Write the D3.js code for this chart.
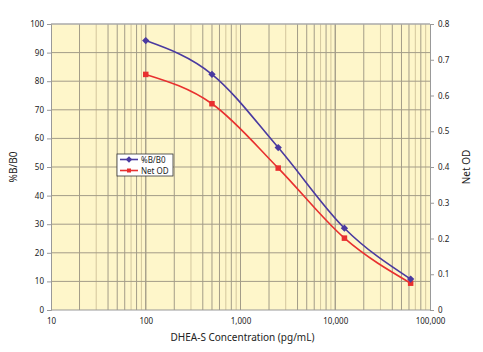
<!DOCTYPE html>
<html>
<head>
<meta charset="utf-8">
<script src="https://cdn.jsdelivr.net/npm/d3@7"></script>
<style>
  body { margin: 0; background: #fff; }
  text { font-family: "Noto Sans", "Open Sans", sans-serif; fill: #222; }
</style>
</head>
<body>
<script>
// Data
const conc = [100, 500, 2500, 12500, 62500];
const pctB = [94.2, 82.4, 56.8, 28.6, 10.8];
const netOD = [0.659, 0.577, 0.397, 0.201, 0.075];
const xTicks = [10, 100, 1000, 10000, 100000];
const leftTicks = d3.range(0, 101, 10);
const rightTicks = [0, 0.1, 0.2, 0.3, 0.4, 0.5, 0.6, 0.7, 0.8];

const W = 483, H = 352;
const margin = { top: 24, right: 53, bottom: 42, left: 51 };
const width = W - margin.left - margin.right;
const height = H - margin.top - margin.bottom;

const svg = d3.select("body").append("svg")
    .attr("width", W)
    .attr("height", H);

const g = svg.append("g").attr("transform", "translate(" + margin.left + "," + margin.top + ")");

const x = d3.scaleLog().domain([10, 100000]).range([0, width]);
const yL = d3.scaleLinear().domain([0, 100]).range([height, 0]);
const yR = d3.scaleLinear().domain([0, 0.8]).range([height, 0]);

// Background
g.append("rect")
    .attr("width", width)
    .attr("height", height)
    .attr("fill", "#fef6ca");

// Vertical grid (log minor)
const minor = [];
for (let d = 10; d < 100000; d *= 10) {
  for (let k = 1; k <= 10; k++) minor.push(d * k);
}
g.append("g").selectAll("line")
  .data(minor.filter(v => v > 10 && v < 100000))
  .join("line")
    .attr("x1", d => x(d)).attr("x2", d => x(d))
    .attr("y1", 0).attr("y2", height)
    .attr("stroke", d => {
      const k = Math.round(d / Math.pow(10, Math.floor(Math.log10(d) + 1e-9)));
      return (k === 3 || k === 7 || k === 9) ? "#d3c69e" : "#a39c88";
    })
    .attr("stroke-width", 1);

// Horizontal grid
g.append("g").selectAll("line")
  .data(leftTicks.slice(1, -1))
  .join("line")
    .attr("x1", 0).attr("x2", width)
    .attr("y1", d => yL(d)).attr("y2", d => yL(d))
    .attr("stroke", "#a39c88")
    .attr("stroke-width", 1);

// Frame
g.append("line").attr("x1", 0).attr("x2", width).attr("y1", 0).attr("y2", 0)
    .attr("stroke", "#aaa").attr("stroke-width", 1.5);
g.append("line").attr("x1", 0).attr("x2", width).attr("y1", height).attr("y2", height)
    .attr("stroke", "#999").attr("stroke-width", 1);

// Axes
const leftAxis = g.append("g")
    .call(d3.axisLeft(yL).tickValues(leftTicks).tickSize(4).tickPadding(3));
const rightAxis = g.append("g").attr("transform", "translate(" + width + ",0)")
    .call(d3.axisRight(yR).tickValues(rightTicks).tickSize(4).tickPadding(4)
      .tickFormat(d => d === 0 ? "0" : d3.format(".1f")(d)));
const bottomAxis = g.append("g").attr("transform", "translate(0," + height + ")")
    .call(d3.axisBottom(x).tickValues(xTicks).tickSize(0).tickPadding(8)
      .tickFormat(d3.format(",")));

[leftAxis, rightAxis, bottomAxis].forEach(a => {
  a.selectAll(".domain").attr("stroke", "#999");
  a.selectAll(".tick line").attr("stroke", "#999");
  a.selectAll("text").attr("font-size", 8).attr("fill", "#222")
    .attr("font-family", "'Noto Sans', sans-serif");
});
bottomAxis.select(".domain").remove();

// Curves
const blue = "#4a3aa0", red = "#e8302f";
const line = (ys, ya) => d3.line()
    .x((d, i) => x(conc[i]))
    .y((d, i) => ya(ys[i]))
    .curve(d3.curveMonotoneX)(conc);

g.append("path").attr("d", line(netOD, yR))
    .attr("fill", "none").attr("stroke", red).attr("stroke-width", 1.6);
g.append("path").attr("d", line(pctB, yL))
    .attr("fill", "none").attr("stroke", blue).attr("stroke-width", 1.6);

const diamond = d3.symbol().type(d3.symbolDiamond2).size(34);
g.append("g").selectAll("rect")
  .data(conc)
  .join("rect")
    .attr("x", (d, i) => x(d) - 2.75)
    .attr("y", (d, i) => yR(netOD[i]) - 2.75)
    .attr("width", 5.5).attr("height", 5.5)
    .attr("fill", red);
g.append("g").selectAll("path")
  .data(conc)
  .join("path")
    .attr("d", diamond)
    .attr("transform", (d, i) => "translate(" + x(d) + "," + yL(pctB[i]) + ")")
    .attr("fill", blue);

// Legend
const leg = svg.append("g").attr("transform", "translate(117,154)");
leg.append("rect").attr("width", 56).attr("height", 22)
    .attr("fill", "#fff").attr("stroke", "#333").attr("stroke-width", 0.8);
const items = [["%B/B0", blue, "d"], ["Net OD", red, "s"]];
items.forEach((it, i) => {
  const yy = 5.5 + i * 11;
  leg.append("line").attr("x1", 3).attr("x2", 21).attr("y1", yy).attr("y2", yy)
      .attr("stroke", it[1]).attr("stroke-width", 1.6);
  if (it[2] === "d") {
    leg.append("path").attr("d", d3.symbol().type(d3.symbolDiamond2).size(26))
        .attr("transform", "translate(12," + yy + ")").attr("fill", it[1]);
  } else {
    leg.append("rect").attr("x", 10).attr("y", yy - 2).attr("width", 4).attr("height", 4)
        .attr("fill", it[1]);
  }
  leg.append("text").attr("x", 24).attr("y", yy + 3).attr("font-size", 8).text(it[0]);
});

// Axis titles
svg.append("text")
    .attr("transform", "translate(17," + (margin.top + height / 2) + ") rotate(-90)")
    .attr("text-anchor", "middle").attr("font-size", 10).text("%B/B0");
svg.append("text")
    .attr("transform", "translate(470," + (margin.top + height / 2) + ") rotate(-90)")
    .attr("text-anchor", "middle").attr("font-size", 10).text("Net OD");
svg.append("text")
    .attr("x", margin.left + width / 2 + 2).attr("y", 341)
    .attr("text-anchor", "middle").attr("font-size", 10).text("DHEA-S Concentration (pg/mL)");
</script>
</body>
</html>
